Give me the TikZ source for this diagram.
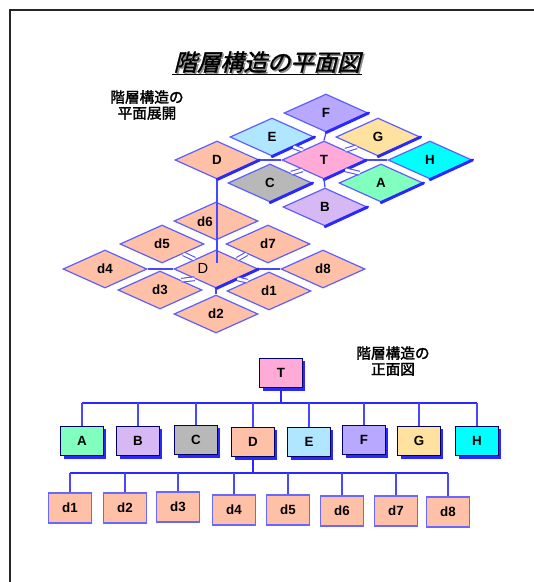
\documentclass[tikz,border=0pt]{standalone}
\usepackage{fontspec}
\usetikzlibrary{shapes.geometric,shadows}
\newfontfamily\jp{Noto Sans CJK JP}
\newfontfamily\jpslant{Noto Sans CJK JP}[FakeSlant=0.25,FakeBold=1.5]
\newfontfamily\jpbold{Noto Sans CJK JP}[FakeBold=2]
\newfontfamily\lab{Liberation Sans}
\definecolor{lnblue}{RGB}{40,40,255}
\definecolor{cA}{RGB}{128,255,190}
\definecolor{cB}{RGB}{214,184,245}
\definecolor{cC}{RGB}{184,184,184}
\definecolor{cD}{RGB}{255,192,168}
\definecolor{cE}{RGB}{176,230,255}
\definecolor{cF}{RGB}{184,168,255}
\definecolor{cG}{RGB}{255,226,160}
\definecolor{cH}{RGB}{0,255,255}
\definecolor{cT}{RGB}{255,170,215}
\begin{document}
\begin{tikzpicture}[x=0.75pt,y=-0.75pt,
  dia/.style={diamond, draw=lnblue!75, line width=0.9pt, minimum width=63pt, minimum height=28.5pt, inner sep=0pt, font=\lab\bfseries\fontsize{10}{10}\selectfont},
  thickedge/.style={draw=lnblue, line width=2.2pt, line cap=round},
  link/.style={draw=lnblue!85, line width=0.9pt},
  bridge/.style={draw=lnblue!80, line width=0.8pt, double=white, double distance=2pt},
  lbl/.style={font=\lab\bfseries\fontsize{10}{10}\selectfont, inner sep=0pt},
  box/.style={rectangle, draw=black!60!blue, line width=0.6pt, minimum width=32pt, minimum height=22pt, inner sep=0pt, font=\lab\bfseries\fontsize{10}{10}\selectfont, general shadow={fill=lnblue, shadow xshift=2.2pt, shadow yshift=-2.2pt}},
  dbox/.style={rectangle, draw=lnblue!70, line width=1pt, fill=cD, minimum width=32pt, minimum height=22.5pt, inner sep=0pt, font=\lab\bfseries\fontsize{10}{10}\selectfont},
  bus/.style={draw=lnblue, line width=1.5pt},
  drop/.style={draw=lnblue!85, line width=1.1pt},
  jplabel/.style={font=\jpbold\fontsize{11}{12}\selectfont, align=center, inner sep=0pt}
]
\useasboundingbox (0,0) rectangle (534,582);
% frame
\draw[line width=1.5pt, black!85] (534,10) -- (10,10) -- (10,582);

% title
\node[font=\jpslant\fontsize{17.5}{17.5}\selectfont, text=black!45, inner sep=1pt] (titlesh) at (268.5,63.5) {階層構造の平面図};
\node[font=\jpslant\fontsize{17.5}{17.5}\selectfont, inner sep=1pt] (title) at (267,62) {階層構造の平面図};
\draw[line width=1pt] (title.south west) -- (title.south east);

% sub labels
\node[jplabel] (lab1) at (147,105) {階層構造の\\平面展開};
\node[jplabel] (lab2) at (393,361) {階層構造の\\正面図};

% ---------- upper diamond cluster ----------
\node[dia, fill=cF] (F) at (326,113) {F};
\node[dia, fill=cE] (E) at (272,137) {E};
\node[dia, fill=cG] (G) at (378,137) {G};
\node[dia, fill=cD] (Du) at (217,160) {D};
\node[dia, fill=cT] (T) at (324,160) {T};
\node[dia, fill=cH] (H) at (430,160) {H};
\node[dia, fill=cC] (C) at (270,183) {C};
\node[dia, fill=cA] (A) at (381,183) {A};
\node[dia, fill=cB] (B) at (325,207) {B};
\foreach \n in {F,E,G,Du,T,H,C,A,B} \draw[thickedge] (\n.east) -- (\n.south);
\draw[link] (T.west) -- (Du.east);
\draw[link] (T.east) -- (H.west);
\draw[link] (T.north) -- (F.south);
\draw[link] (T.south) -- (B.north);
\draw[bridge] (T.north west) -- (E.south east);
\draw[bridge] (T.north east) -- (G.south west);
\draw[bridge] (T.south east) -- (A.north west);
\draw[bridge] (T.south west) -- (C.north east);

% ---------- lower diamond cluster ----------
\node[dia, fill=cD] (d6) at (216,221) {};
\node[dia, fill=cD] (d5) at (162,244) {d5};
\node[dia, fill=cD] (d7) at (268,244) {d7};
\node[dia, fill=cD] (d4) at (105,269) {d4};
\node[dia, fill=cD] (Dl) at (216,269) {};
\node[dia, fill=cD] (d8) at (323,269) {d8};
\node[dia, fill=cD] (d3) at (160,290) {d3};
\node[dia, fill=cD] (d1) at (269,291) {d1};
\node[dia, fill=cD] (d2) at (216,314) {d2};
\node[lbl] (d6lab) at (205,222) {d6};
\node[font=\lab\fontsize{11}{11}\selectfont, inner sep=0pt] (Dllab) at (203,268) {D};
\draw[thickedge] (Dl.east) -- (Dl.south);
\draw[link] (Dl.west) -- (d4.east);
\draw[link] (Dl.east) -- (d8.west);
\draw[link] (Dl.south) -- (d2.north);
\draw[bridge] (Dl.north west) -- (d5.south east);
\draw[bridge] (Dl.north east) -- (d7.south west);
\draw[bridge] (Dl.south west) -- (d3.north east);
\draw[bridge] (Dl.south east) -- (d1.north west);
\coordinate (stickEnd) at (217,263);
\draw[link] (Du.south) -- (stickEnd);

% ---------- tree ----------
\node[box, fill=cT] (Tt) at (281,373) {T};
\node[box, fill=cA] (At) at (82,441) {A};
\node[box, fill=cB] (Bt) at (138,441) {B};
\node[box, fill=cC] (Ct) at (196,440) {C};
\node[box, fill=cD] (Dt) at (253,442) {D};
\node[box, fill=cE] (Et) at (309,442) {E};
\node[box, fill=cF] (Ft) at (364,440) {F};
\node[box, fill=cG] (Gt) at (419,441) {G};
\node[box, fill=cH] (Ht) at (477,441) {H};
\coordinate (busL) at (82,403);
\coordinate (busR) at (477,403);
\draw[bus] (busL) -- (busR);
\draw[bus, line width=2pt] (Tt.south) -- (Tt.south |- busL);
\foreach \n in {At,Bt,Ct,Dt,Et,Ft,Gt,Ht} \draw[drop] (\n.north) -- (\n.north |- busL);

\node[dbox] (t1) at (70,508) {d1};
\node[dbox] (t2) at (125,508) {d2};
\node[dbox] (t3) at (178,507) {d3};
\node[dbox] (t4) at (234,510) {d4};
\node[dbox] (t5) at (288,510) {d5};
\node[dbox] (t6) at (342,511) {d6};
\node[dbox] (t7) at (396,511) {d7};
\node[dbox] (t8) at (448,512) {d8};
\coordinate (bus2L) at (70,473);
\coordinate (bus2R) at (448,473);
\draw[bus] (bus2L) -- (bus2R);
\draw[bus, line width=2pt] (Dt.south) -- (Dt.south |- bus2L);
\foreach \n in {t1,t2,t3,t4,t5,t6,t7,t8} \draw[drop] (\n.north) -- (\n.north |- bus2L);
\end{tikzpicture}
\end{document}
